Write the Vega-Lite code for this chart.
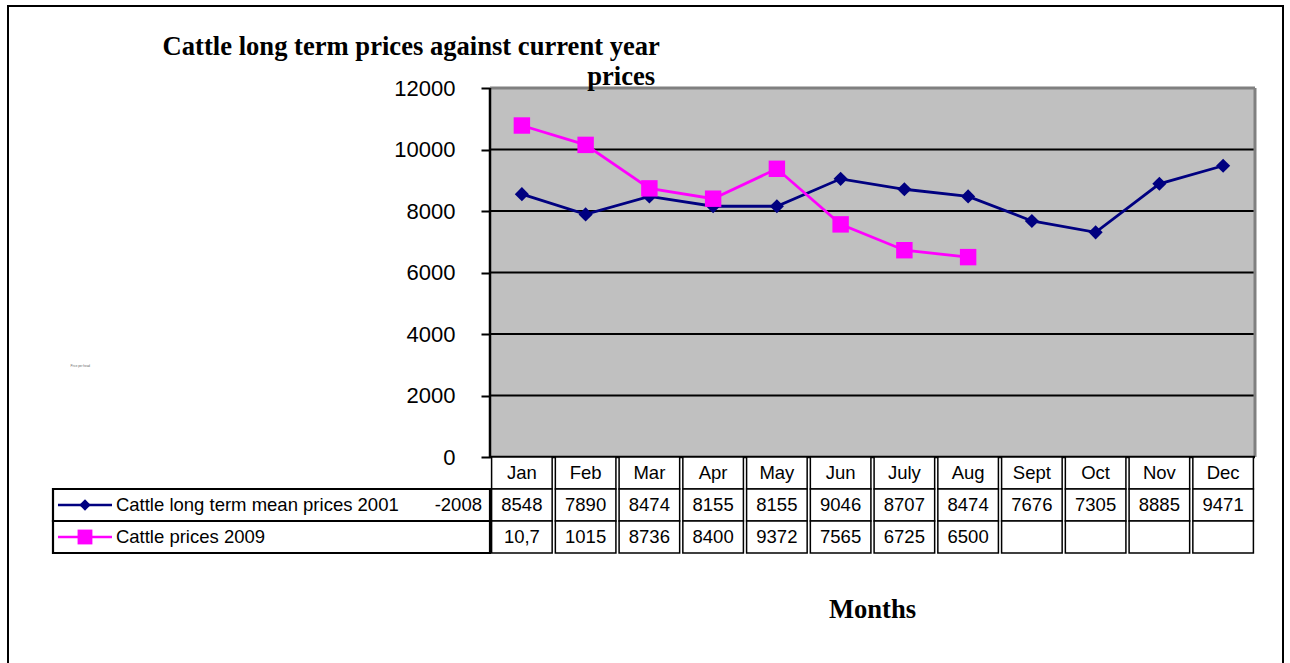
{
  "$schema": "https://vega.github.io/schema/vega-lite/v6.json",
  "width": 1275,
  "height": 670,
  "autosize": {"type": "none"},
  "padding": {"left": 8, "top": 6, "right": 7, "bottom": 0},
  "background": "white",
  "config": {"view": {"stroke": "black", "strokeWidth": 2, "fill": "white"}, "font": "Liberation Sans"},
  "datasets": {
    "prices": [
      {"month": "Jan", "series": "Cattle long term mean prices 2001 -2008", "value": 8548, "label": "8548"},
      {"month": "Feb", "series": "Cattle long term mean prices 2001 -2008", "value": 7890, "label": "7890"},
      {"month": "Mar", "series": "Cattle long term mean prices 2001 -2008", "value": 8474, "label": "8474"},
      {"month": "Apr", "series": "Cattle long term mean prices 2001 -2008", "value": 8155, "label": "8155"},
      {"month": "May", "series": "Cattle long term mean prices 2001 -2008", "value": 8155, "label": "8155"},
      {"month": "Jun", "series": "Cattle long term mean prices 2001 -2008", "value": 9046, "label": "9046"},
      {"month": "July", "series": "Cattle long term mean prices 2001 -2008", "value": 8707, "label": "8707"},
      {"month": "Aug", "series": "Cattle long term mean prices 2001 -2008", "value": 8474, "label": "8474"},
      {"month": "Sept", "series": "Cattle long term mean prices 2001 -2008", "value": 7676, "label": "7676"},
      {"month": "Oct", "series": "Cattle long term mean prices 2001 -2008", "value": 7305, "label": "7305"},
      {"month": "Nov", "series": "Cattle long term mean prices 2001 -2008", "value": 8885, "label": "8885"},
      {"month": "Dec", "series": "Cattle long term mean prices 2001 -2008", "value": 9471, "label": "9471"},
      {"month": "Jan", "series": "Cattle prices 2009", "value": 10780, "label": "10,7"},
      {"month": "Feb", "series": "Cattle prices 2009", "value": 10150, "label": "1015"},
      {"month": "Mar", "series": "Cattle prices 2009", "value": 8736, "label": "8736"},
      {"month": "Apr", "series": "Cattle prices 2009", "value": 8400, "label": "8400"},
      {"month": "May", "series": "Cattle prices 2009", "value": 9372, "label": "9372"},
      {"month": "Jun", "series": "Cattle prices 2009", "value": 7565, "label": "7565"},
      {"month": "July", "series": "Cattle prices 2009", "value": 6725, "label": "6725"},
      {"month": "Aug", "series": "Cattle prices 2009", "value": 6500, "label": "6500"},
      {"month": "Sept", "series": "Cattle prices 2009", "value": null, "label": ""},
      {"month": "Oct", "series": "Cattle prices 2009", "value": null, "label": ""},
      {"month": "Nov", "series": "Cattle prices 2009", "value": null, "label": ""},
      {"month": "Dec", "series": "Cattle prices 2009", "value": null, "label": ""}
    ],
    "gridlines": [{"v": 2000}, {"v": 4000}, {"v": 6000}, {"v": 8000}, {"v": 10000}],
    "legendRows": [
      {"series": "Cattle long term mean prices 2001 -2008", "name": "Cattle long term mean prices 2001", "suffix": "-2008"},
      {"series": "Cattle prices 2009", "name": "Cattle prices 2009", "suffix": ""}
    ]
  },
  "layer": [
    {
      "layer": [
        {
          "data": {"values": [{}]},
          "mark": {"type": "rect", "color": "#C0C0C0"},
          "encoding": {
            "x": {"datum": "Jan", "type": "ordinal", "bandPosition": 0,
                  "scale": {"type": "band", "domain": ["Jan","Feb","Mar","Apr","May","Jun","July","Aug","Sept","Oct","Nov","Dec"], "range": [482, 1247], "paddingInner": 0, "paddingOuter": 0},
                  "axis": null},
            "x2": {"datum": "Dec", "bandPosition": 1},
            "y": {"datum": 0, "type": "quantitative",
                  "scale": {"domain": [0, 12000], "range": [451, 82], "nice": false, "zero": false},
                  "axis": {"values": [0, 2000, 4000, 6000, 8000, 10000, 12000], "domain": false, "grid": false, "ticks": true, "tickSize": 9, "tickWidth": 2, "tickColor": "black", "labelFontSize": 22, "labelFont": "Liberation Sans", "labelColor": "black", "labelPadding": 26, "offset": -482, "title": null, "labelFlush": false, "labelOverlap": false, "format": "d"}},
            "y2": {"datum": 12000}
          }
        },
        {
          "data": {"name": "gridlines"},
          "mark": {"type": "rule", "color": "black", "strokeWidth": 2},
          "encoding": {
            "x": {"datum": "Jan", "type": "ordinal", "bandPosition": 0},
            "x2": {"datum": "Dec", "bandPosition": 1},
            "y": {"field": "v", "type": "quantitative"}
          }
        },
        {
          "data": {"values": [{}]},
          "mark": {"type": "rule", "color": "#808080", "strokeWidth": 3},
          "encoding": {
            "x": {"datum": "Jan", "type": "ordinal", "bandPosition": 0},
            "x2": {"datum": "Dec", "bandPosition": 1},
            "y": {"datum": 12000, "type": "quantitative"}
          }
        },
        {
          "data": {"values": [{}]},
          "mark": {"type": "rule", "color": "#808080", "strokeWidth": 3},
          "encoding": {
            "x": {"datum": "Dec", "type": "ordinal", "bandPosition": 1},
            "y": {"datum": 0, "type": "quantitative"},
            "y2": {"datum": 12000}
          }
        },
        {
          "data": {"values": [{}]},
          "mark": {"type": "rule", "color": "black", "strokeWidth": 2.5},
          "encoding": {
            "x": {"datum": "Jan", "type": "ordinal", "bandPosition": 0},
            "y": {"datum": 0, "type": "quantitative"},
            "y2": {"datum": 12000}
          }
        },
        {
          "data": {"values": [{}]},
          "mark": {"type": "rule", "color": "black", "strokeWidth": 2.5},
          "encoding": {
            "x": {"datum": "Jan", "type": "ordinal", "bandPosition": 0},
            "x2": {"datum": "Dec", "bandPosition": 1},
            "y": {"datum": 0, "type": "quantitative"}
          }
        },
        {
          "data": {"name": "prices"},
          "transform": [{"filter": "datum.value != null"}],
          "mark": {"type": "line", "strokeWidth": 2.8},
          "encoding": {
            "x": {"field": "month", "type": "ordinal"},
            "y": {"field": "value", "type": "quantitative"},
            "color": {"field": "series", "type": "nominal",
                      "scale": {"domain": ["Cattle long term mean prices 2001 -2008", "Cattle prices 2009"], "range": ["#000080", "#FF00FF"]},
                      "legend": null}
          }
        },
        {
          "data": {"name": "prices"},
          "transform": [{"filter": "datum.value != null && datum.series == 'Cattle long term mean prices 2001 -2008'"}],
          "mark": {"type": "point", "filled": true, "opacity": 1, "shape": "diamond", "size": 200},
          "encoding": {
            "x": {"field": "month", "type": "ordinal"},
            "y": {"field": "value", "type": "quantitative"},
            "color": {"field": "series", "type": "nominal", "legend": null}
          }
        },
        {
          "data": {"name": "prices"},
          "transform": [{"filter": "datum.value != null && datum.series == 'Cattle prices 2009'"}],
          "mark": {"type": "point", "filled": true, "opacity": 1, "shape": "square", "size": 270},
          "encoding": {
            "x": {"field": "month", "type": "ordinal"},
            "y": {"field": "value", "type": "quantitative"},
            "color": {"field": "series", "type": "nominal", "legend": null}
          }
        },
        {
          "data": {"values": [{}]},
          "mark": {"type": "text", "font": "Liberation Serif", "fontWeight": "bold", "fontSize": 26.6, "align": "right", "baseline": "alphabetic", "color": "black"},
          "encoding": {
            "x": {"datum": "Mar", "type": "ordinal", "bandPosition": 0.665},
            "y": {"datum": 13073, "type": "quantitative"},
            "text": {"value": "Cattle long term prices against current year"}
          }
        },
        {
          "data": {"values": [{}]},
          "mark": {"type": "text", "font": "Liberation Serif", "fontWeight": "bold", "fontSize": 26.6, "align": "right", "baseline": "alphabetic", "color": "black"},
          "encoding": {
            "x": {"datum": "Mar", "type": "ordinal", "bandPosition": 0.59},
            "y": {"datum": 12097, "type": "quantitative"},
            "text": {"value": "prices"}
          }
        },
        {
          "data": {"values": [{}]},
          "mark": {"type": "text", "font": "Liberation Serif", "fontWeight": "bold", "fontSize": 26.6, "align": "center", "baseline": "alphabetic", "color": "black"},
          "encoding": {
            "x": {"datum": "Jun", "type": "ordinal", "bandPosition": 1},
            "y": {"datum": -5236, "type": "quantitative"},
            "text": {"value": "Months"}
          }
        },
        {
          "data": {"values": [{}]},
          "mark": {"type": "text", "fontSize": 3, "align": "left", "baseline": "middle", "color": "#666666"},
          "encoding": {
            "x": {"datum": "Jan", "type": "ordinal", "bandPosition": -6.58},
            "y": {"datum": 2959, "type": "quantitative"},
            "text": {"value": "Price per head"}
          }
        }
      ]
    },
    {
      "data": {"name": "prices"},
      "layer": [
        {
          "transform": [{"filter": "datum.series == 'Cattle long term mean prices 2001 -2008'"}],
          "mark": {"type": "rect", "fill": "white", "stroke": "black", "strokeWidth": 1.5},
          "encoding": {
            "x": {"field": "month", "type": "ordinal",
                  "scale": {"type": "band", "domain": ["Jan","Feb","Mar","Apr","May","Jun","July","Aug","Sept","Oct","Nov","Dec"], "range": [482, 1247], "paddingInner": 0.05, "paddingOuter": 0.025},
                  "axis": null},
            "y": {"datum": "Month", "type": "ordinal",
                  "scale": {"type": "band", "domain": ["Month", "Cattle long term mean prices 2001 -2008", "Cattle prices 2009"], "range": [451, 547], "paddingInner": 0, "paddingOuter": 0},
                  "axis": null}
          }
        },
        {
          "mark": {"type": "rect", "fill": "white", "stroke": "black", "strokeWidth": 1.5},
          "encoding": {
            "x": {"field": "month", "type": "ordinal"},
            "y": {"field": "series", "type": "ordinal"}
          }
        },
        {
          "transform": [{"filter": "datum.series == 'Cattle long term mean prices 2001 -2008'"}],
          "mark": {"type": "text", "fontSize": 18.5, "font": "Liberation Sans", "color": "black", "align": "center", "baseline": "middle"},
          "encoding": {
            "x": {"field": "month", "type": "ordinal"},
            "y": {"datum": "Month", "type": "ordinal"},
            "text": {"field": "month"}
          }
        },
        {
          "mark": {"type": "text", "fontSize": 18.5, "font": "Liberation Sans", "color": "black", "align": "center", "baseline": "middle"},
          "encoding": {
            "x": {"field": "month", "type": "ordinal"},
            "y": {"field": "series", "type": "ordinal"},
            "text": {"field": "label"}
          }
        }
      ]
    },
    {
      "data": {"name": "legendRows"},
      "layer": [
        {
          "mark": {"type": "rect", "fill": "white", "stroke": "black", "strokeWidth": 2.2},
          "encoding": {
            "x": {"datum": "legend", "type": "ordinal",
                  "scale": {"type": "band", "domain": ["legend"], "range": [45, 482], "paddingInner": 0, "paddingOuter": 0},
                  "axis": null},
            "y": {"field": "series", "type": "ordinal",
                  "scale": {"type": "band", "domain": ["Month", "Cattle long term mean prices 2001 -2008", "Cattle prices 2009"], "range": [451, 547], "paddingInner": 0, "paddingOuter": 0},
                  "axis": null}
          }
        },
        {
          "mark": {"type": "rule", "strokeWidth": 2.5},
          "encoding": {
            "x": {"datum": "legend", "type": "ordinal", "bandPosition": 0.0114},
            "x2": {"datum": "legend", "bandPosition": 0.135},
            "y": {"field": "series", "type": "ordinal"},
            "color": {"field": "series", "type": "nominal", "legend": null}
          }
        },
        {
          "transform": [{"filter": "datum.series == 'Cattle long term mean prices 2001 -2008'"}],
          "mark": {"type": "point", "filled": true, "opacity": 1, "shape": "diamond", "size": 130},
          "encoding": {
            "x": {"datum": "legend", "type": "ordinal", "bandPosition": 0.0732},
            "y": {"field": "series", "type": "ordinal"},
            "color": {"field": "series", "type": "nominal", "legend": null}
          }
        },
        {
          "transform": [{"filter": "datum.series == 'Cattle prices 2009'"}],
          "mark": {"type": "point", "filled": true, "opacity": 1, "shape": "square", "size": 220},
          "encoding": {
            "x": {"datum": "legend", "type": "ordinal", "bandPosition": 0.0732},
            "y": {"field": "series", "type": "ordinal"},
            "color": {"field": "series", "type": "nominal", "legend": null}
          }
        },
        {
          "mark": {"type": "text", "fontSize": 18.5, "font": "Liberation Sans", "color": "black", "align": "left", "baseline": "middle"},
          "encoding": {
            "x": {"datum": "legend", "type": "ordinal", "bandPosition": 0.144},
            "y": {"field": "series", "type": "ordinal"},
            "text": {"field": "name"}
          }
        },
        {
          "mark": {"type": "text", "fontSize": 18.5, "font": "Liberation Sans", "color": "black", "align": "right", "baseline": "middle"},
          "encoding": {
            "x": {"datum": "legend", "type": "ordinal", "bandPosition": 0.9817},
            "y": {"field": "series", "type": "ordinal"},
            "text": {"field": "suffix"}
          }
        }
      ]
    }
  ],
  "resolve": {"scale": {"x": "independent", "y": "independent"}}
}
